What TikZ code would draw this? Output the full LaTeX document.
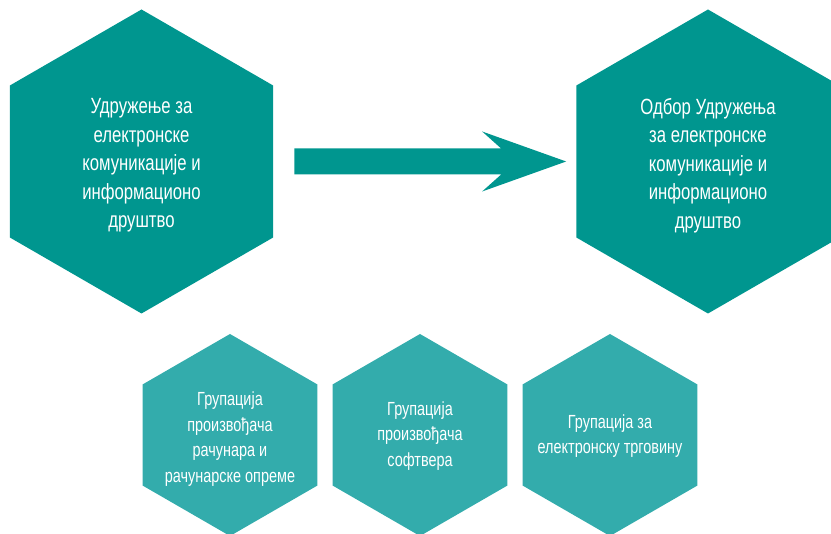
\documentclass[tikz,border=0pt]{standalone}
\usepackage{fontspec}
\setmainfont{Liberation Sans}[FakeStretch=0.76]
\usetikzlibrary{shapes.geometric,calc}
\definecolor{tamna}{HTML}{00968F}
\definecolor{svetla}{HTML}{33ACAC}
\tikzset{
  hex/.style={regular polygon, regular polygon sides=6, shape border rotate=30, inner sep=0pt},
  bighex/.style={hex, fill=tamna, minimum size=304pt},
  smallhex/.style={hex, fill=svetla, minimum size=202pt},
  bigtext/.style={text=white, align=center, inner sep=0pt, font=\fontsize{22}{28.5}\selectfont},
  smalltext/.style={text=white, align=center, inner sep=0pt, font=\fontsize{19}{25.5}\selectfont}
}
\begin{document}
\begin{tikzpicture}[x=1pt,y=-1pt]
\useasboundingbox (0,0) rectangle (831,534);
\clip (0,0) rectangle (831,534);

\node[bighex] (udruzenje) at (141.5,161.5) {};
\node[bighex] (odbor) at (708,161.5) {};
\node[smallhex] (hardver) at (230,435) {};
\node[smallhex] (softver) at (420,435) {};
\node[smallhex] (trgovina) at (610,435) {};

\node[bigtext] (udruzenje-t) at ($(udruzenje)+(0,4)$) {Удружење за\\електронске\\комуникације и\\информационо\\друштво};
\node[bigtext] (odbor-t) at ($(odbor)+(0,4)$) {Одбор Удружења\\за електронске\\комуникације и\\информационо\\друштво};
\node[smalltext] (hardver-t) at ($(hardver)+(0,4)$) {Групација\\произвођача\\рачунара и\\рачунарске опреме};
\node[smalltext] (softver-t) at ($(softver)+(0,1)$) {Групација\\произвођача\\софтвера};
\node[smalltext] (trgovina-t) at ($(trgovina)+(0,1)$) {Групација за\\електронску трговину};

% strelica
\coordinate (pocetak) at ($(udruzenje.east)+(21,0)$);
\coordinate (vrh) at ($(odbor.west)+(-10,0)$);
\fill[tamna] ($(pocetak)+(0,-13)$) -- ($(vrh)+(-65,-13)$) -- ($(vrh)+(-84,-30)$)
  -- (vrh) -- ($(vrh)+(-84,30)$) -- ($(vrh)+(-65,13)$) -- ($(pocetak)+(0,13)$) -- cycle;
\end{tikzpicture}
\end{document}
